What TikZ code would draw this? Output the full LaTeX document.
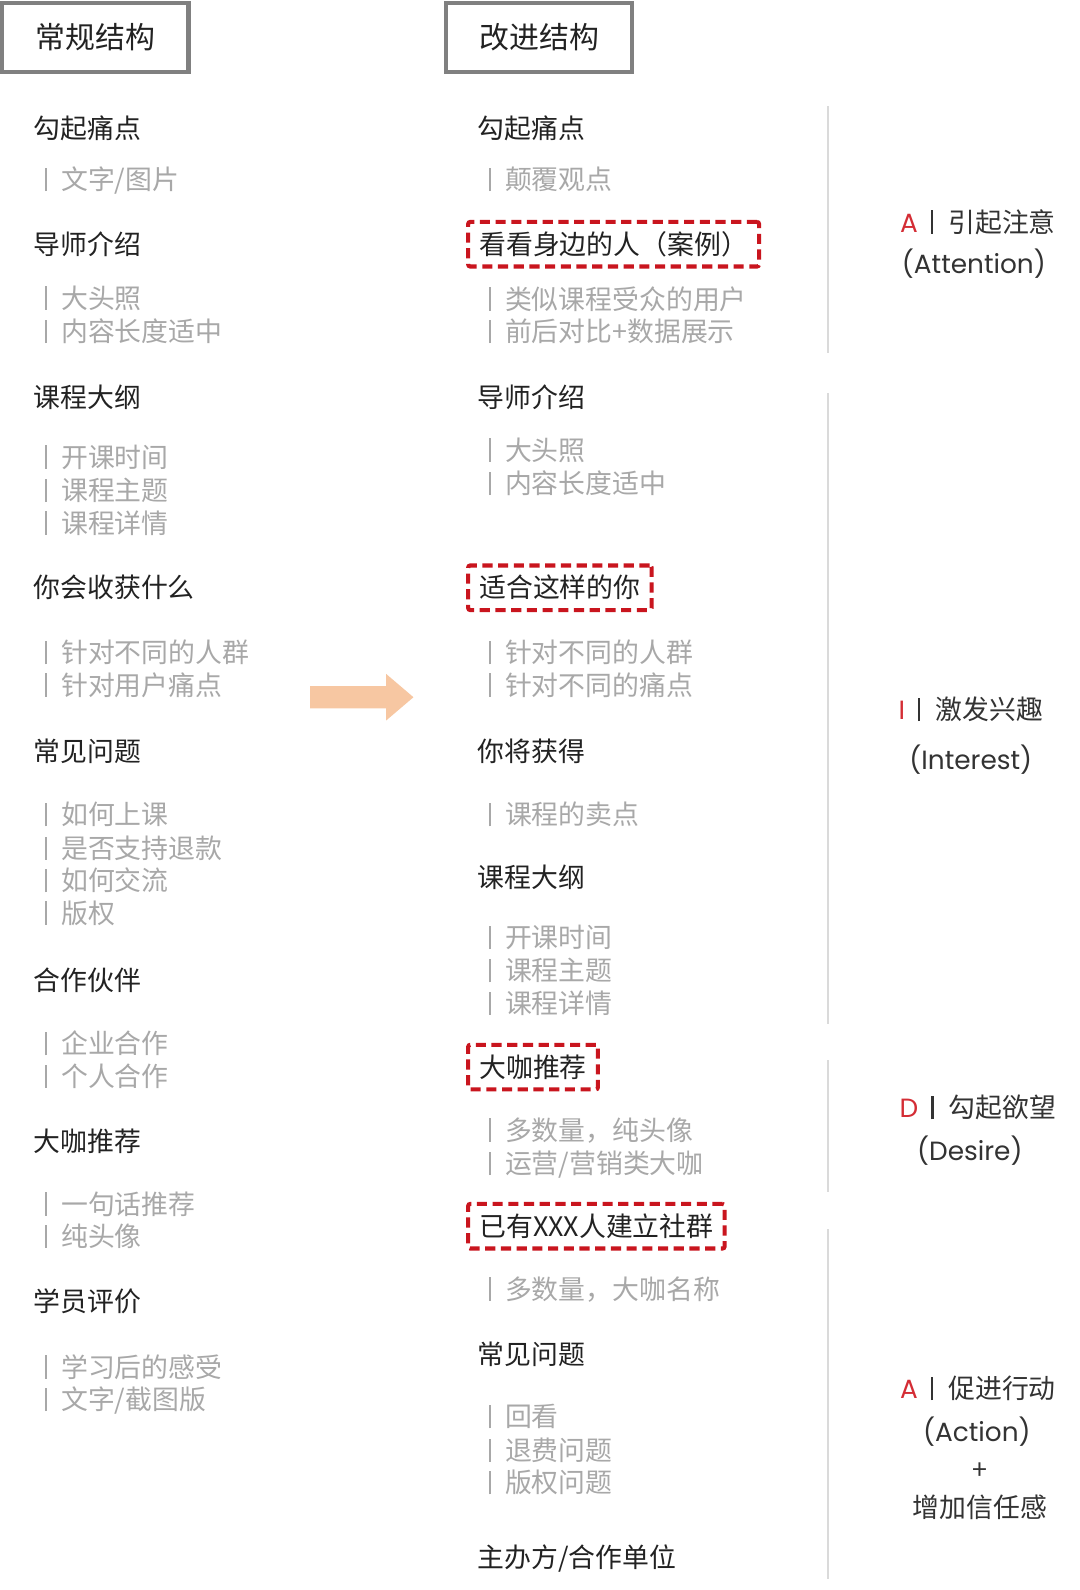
\documentclass[tikz,border=0pt]{standalone}
\usepackage{fontspec}
\setmainfont{Noto Sans CJK SC}
\newfontfamily\latinfont{Poppins}
\definecolor{headc}{HTML}{222222}
\definecolor{itemc}{HTML}{A8A8A8}
\definecolor{titlec}{HTML}{808080}
\definecolor{hlred}{HTML}{C9151E}
\definecolor{aidared}{HTML}{D42D35}
\definecolor{aidac}{HTML}{333333}
\definecolor{dividerc}{HTML}{DADADA}
\definecolor{peach}{HTML}{F7C7A2}
\newcommand{\itembar}{\hspace{2pt}\rule[-1.5pt]{2.2pt}{23pt}\hspace{14pt}}
\newcommand{\stage}[1]{{\latinfont\fontsize{26}{26}\selectfont\textcolor{aidared}{#1}}%
  \hspace{13pt}\rule[-1.5pt]{2.2pt}{23pt}\hspace{15pt}}

\begin{document}
\begin{tikzpicture}[x=1pt,y=-1pt,
    head/.style={anchor=base west,inner sep=0pt,text=headc,font=\fontsize{26.5}{26.5}\selectfont},
    itm/.style={head,text=itemc},
    hl/.style={head,draw=hlred,line width=4pt,dash pattern=on 10pt off 5.5pt,
      rounded corners=2pt,inner xsep=11pt,inner ysep=8pt,text height=24pt,text depth=4pt},
    title/.style={draw=titlec,line width=4pt,minimum width=184pt,minimum height=68pt,
      inner sep=0pt,text=headc,font=\fontsize{29.5}{29.5}\selectfont},
    aida/.style={anchor=base,inner sep=0pt,text=aidac,font=\fontsize{26.5}{26.5}\selectfont},
    aen/.style={aida,font=\latinfont\fontsize{26}{26}\selectfont},
    divider/.style={dividerc,line width=2pt}]
  \fill[white] (0,0) rectangle (1065.6,1569);
  \useasboundingbox (0,0) rectangle (1065.6,1569);

  \node (oldtitle) [title] at (94,37) {常规结构};
  \node (newtitle) [title] at (532,37) {改进结构};

  % regular structure
  \begin{scope}
    \node (o1) [head] at (33,137) {勾起痛点};
    \node (o1a) [itm] at (42,187) {\itembar 文字/图片};
    \node (o2) [head] at (33,251) {导师介绍};
    \node (o2a) [itm] at (42,304) {\itembar 大头照};
    \node (o2b) [itm] at (42,337) {\itembar 内容长度适中};
    \node (o3) [head] at (33,402) {课程大纲};
    \node (o3a) [itm] at (42,461) {\itembar 开课时间};
    \node (o3b) [itm] at (42,494) {\itembar 课程主题};
    \node (o3c) [itm] at (42,526) {\itembar 课程详情};
    \node (o4) [head] at (33,590) {你会收获什么};
    \node (o4a) [itm] at (42,654) {\itembar 针对不同的人群};
    \node (o4b) [itm] at (42,686) {\itembar 针对用户痛点};
    \node (o5) [head] at (33,751) {常见问题};
    \node (o5a) [itm] at (42,814) {\itembar 如何上课};
    \node (o5b) [itm] at (42,847) {\itembar 是否支持退款};
    \node (o5c) [itm] at (42,879) {\itembar 如何交流};
    \node (o5d) [itm] at (42,911) {\itembar 版权};
    \node (o6) [head] at (33,977) {合作伙伴};
    \node (o6a) [itm] at (42,1040) {\itembar 企业合作};
    \node (o6b) [itm] at (42,1072) {\itembar 个人合作};
    \node (o7) [head] at (33,1136) {大咖推荐};
    \node (o7a) [itm] at (42,1198) {\itembar 一句话推荐};
    \node (o7b) [itm] at (42,1230) {\itembar 纯头像};
    \node (o8) [head] at (33,1294) {学员评价};
    \node (o8a) [itm] at (42,1359) {\itembar 学习后的感受};
    \node (o8b) [itm] at (42,1391) {\itembar 文字/截图版};
  \end{scope}

  \fill[peach] (306,677) -- (381,677) -- (381,665) -- (408,688) -- (381,711)
    -- (381,699) -- (306,699) -- cycle;

  % improved structure
  \begin{scope}
    \node (n1) [head] at (471,137) {勾起痛点};
    \node (n1a) [itm] at (480,187) {\itembar 颠覆观点};
    \node (n2) [hl] at (460,251) {看看身边的人（案例）};
    \node (n2a) [itm] at (480,305) {\itembar 类似课程受众的用户};
    \node (n2b) [itm] at (480,337) {\itembar 前后对比+数据展示};
    \node (n3) [head] at (471,402) {导师介绍};
    \node (n3a) [itm] at (480,454) {\itembar 大头照};
    \node (n3b) [itm] at (480,487) {\itembar 内容长度适中};
    \node (n4) [hl] at (460,590) {适合这样的你};
    \node (n4a) [itm] at (480,654) {\itembar 针对不同的人群};
    \node (n4b) [itm] at (480,686) {\itembar 针对不同的痛点};
    \node (n5) [head] at (471,751) {你将获得};
    \node (n5a) [itm] at (480,814) {\itembar 课程的卖点};
    \node (n6) [head] at (471,876) {课程大纲};
    \node (n6a) [itm] at (480,935) {\itembar 开课时间};
    \node (n6b) [itm] at (480,968) {\itembar 课程主题};
    \node (n6c) [itm] at (480,1000) {\itembar 课程详情};
    \node (n7) [hl] at (460,1063) {大咖推荐};
    \node (n7a) [itm] at (480,1125) {\itembar 多数量，纯头像};
    \node (n7b) [itm] at (480,1158) {\itembar 运营/营销类大咖};
    \node (n8) [hl] at (460,1220) {已有XXX人建立社群};
    \node (n8a) [itm] at (480,1282) {\itembar 多数量，大咖名称};
    \node (n9) [head] at (471,1346) {常见问题};
    \node (n9a) [itm] at (480,1408) {\itembar 回看};
    \node (n9b) [itm] at (480,1441) {\itembar 退费问题};
    \node (n9c) [itm] at (480,1473) {\itembar 版权问题};
    \node (n10) [head] at (471,1547) {主办方/合作单位};
  \end{scope}

  \draw[divider] (817,105) -- (817,348);
  \draw[divider] (817,388) -- (817,1010);
  \draw[divider] (817,1046) -- (817,1176);
  \draw[divider] (817,1213) -- (817,1558);

  % AIDA stages
  \node (attn) [aida] at (965,229) {\stage{A}引起注意};
  \node (attnen) [aen] at (961,270) {(Attention)};
  \node (intr) [aida] at (958,710) {\stage{I}激发兴趣};
  \node (intren) [aen] at (958,759) {(Interest)};
  \node (desr) [aida] at (965,1103) {\stage{D}勾起欲望};
  \node (desren) [aen] at (957,1145) {(Desire)};
  \node (actn) [aida] at (965,1380) {\stage{A}促进行动};
  \node (actnen) [aen] at (964,1422) {(Action)};
  \node (plus) [aida] at (967,1460) {+};
  \node (trust) [aida] at (967,1497) {增加信任感};
\end{tikzpicture}
\end{document}
